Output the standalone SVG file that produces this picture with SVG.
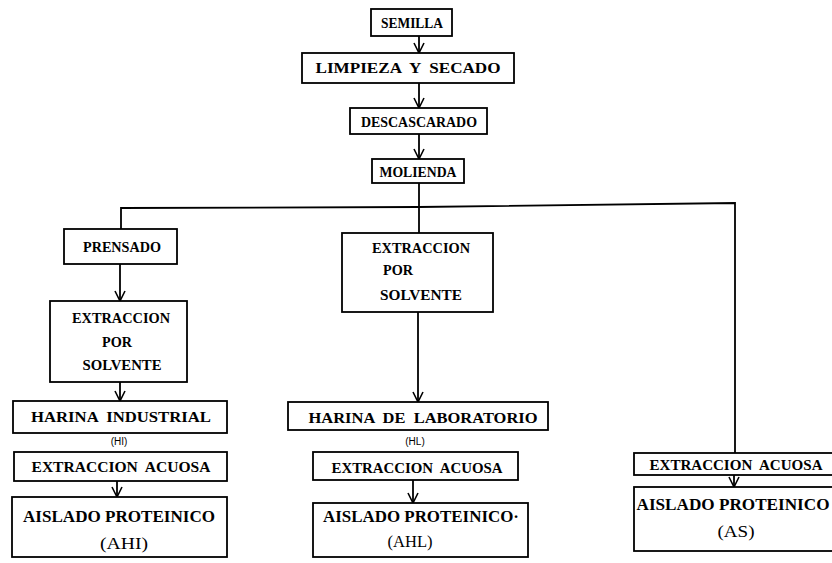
<svg xmlns="http://www.w3.org/2000/svg" width="832" height="563" viewBox="0 0 832 563">
<style>
text{white-space:pre}
.box{fill:#fff;stroke:#000;stroke-width:1.8}
.t{font-family:"Liberation Serif","DejaVu Serif",serif;font-weight:bold;font-size:15px;fill:#000;text-anchor:middle}
.tb{font-family:"Liberation Serif","DejaVu Serif",serif;font-weight:bold;font-size:17px;fill:#000;text-anchor:middle}
.tp{font-family:"Liberation Serif","DejaVu Serif",serif;font-size:17px;fill:#000;text-anchor:middle}
.s{font-family:"Liberation Sans","DejaVu Sans",sans-serif;font-size:10px;fill:#000;text-anchor:middle}
.c{fill:none;stroke:#000;stroke-width:1.8}
.a{marker-end:url(#arr)}
</style>
<defs>
<marker id="arr" viewBox="0 0 12 12" refX="11" refY="6" markerWidth="12" markerHeight="12" markerUnits="userSpaceOnUse" orient="auto">
<path d="M1,1 L11,6 L1,11" fill="none" stroke="#000" stroke-width="1.6"/>
</marker>
</defs>
<rect width="832" height="563" fill="#fff"/>
<g id="connectors">
<line class="c a" x1="419" y1="36" x2="419" y2="53"/>
<line class="c a" x1="419" y1="83" x2="419" y2="108"/>
<line class="c a" x1="419" y1="134" x2="419" y2="159"/>
<line class="c" x1="419" y1="183" x2="419" y2="233"/>
<polyline class="c" points="121,229 121,208 419,207 735,203 735,453"/>
<line class="c a" x1="120" y1="264" x2="120" y2="301"/>
<line class="c a" x1="120" y1="382" x2="120" y2="401"/>
<line class="c a" x1="117" y1="481" x2="117" y2="497"/>
<line class="c a" x1="418" y1="312" x2="418" y2="402"/>
<line class="c a" x1="413" y1="480" x2="413" y2="503"/>
<line class="c a" x1="734" y1="475" x2="734" y2="487"/>
</g>
<g id="semilla"><rect class="box" x="371" y="9" width="81" height="27"/><text class="t" x="412" y="28" textLength="62" lengthAdjust="spacingAndGlyphs">SEMILLA</text></g>
<g id="limpieza"><rect class="box" x="302" y="53" width="212" height="30"/><text class="t" x="408" y="73" textLength="185" lengthAdjust="spacingAndGlyphs">LIMPIEZA  Y  SECADO</text></g>
<g id="descascarado"><rect class="box" x="350" y="108" width="137" height="26"/><text class="t" x="419" y="127" textLength="116" lengthAdjust="spacingAndGlyphs">DESCASCARADO</text></g>
<g id="molienda"><rect class="box" x="372" y="159" width="92" height="24"/><text class="t" x="418" y="177" textLength="77" lengthAdjust="spacingAndGlyphs">MOLIENDA</text></g>
<g id="prensado"><rect class="box" x="64" y="229" width="113" height="35"/><text class="t" x="122" y="252" textLength="78" lengthAdjust="spacingAndGlyphs">PRENSADO</text></g>
<g id="extraccion-solvente-1"><rect class="box" x="50" y="301" width="137" height="81"/>
<text class="t" x="121" y="323" textLength="98" lengthAdjust="spacingAndGlyphs">EXTRACCION</text>
<text class="t" x="117" y="347" textLength="30" lengthAdjust="spacingAndGlyphs">POR</text>
<text class="t" x="122" y="370" textLength="79" lengthAdjust="spacingAndGlyphs">SOLVENTE</text></g>
<g id="harina-industrial"><rect class="box" x="13" y="401" width="214" height="32"/><text class="t" x="121" y="422" textLength="180" lengthAdjust="spacingAndGlyphs">HARINA  INDUSTRIAL</text><text class="s" x="119" y="445">(HI)</text></g>
<g id="extraccion-acuosa-1"><rect class="box" x="14" y="452" width="213" height="29"/><text class="t" x="121" y="472" textLength="179" lengthAdjust="spacingAndGlyphs">EXTRACCION  ACUOSA</text></g>
<g id="aislado-ahi"><rect class="box" x="12" y="497" width="215" height="60"/><text class="tb" x="119" y="522" textLength="192" lengthAdjust="spacingAndGlyphs">AISLADO PROTEINICO</text><text class="tp" x="124" y="549" textLength="48" lengthAdjust="spacingAndGlyphs">(AHI)</text></g>
<g id="extraccion-solvente-2"><rect class="box" x="342" y="233" width="151" height="79"/>
<text class="t" x="421" y="253" textLength="98" lengthAdjust="spacingAndGlyphs">EXTRACCION</text>
<text class="t" x="398" y="275" textLength="30" lengthAdjust="spacingAndGlyphs">POR</text>
<text class="t" x="421" y="300" textLength="82" lengthAdjust="spacingAndGlyphs">SOLVENTE</text></g>
<g id="harina-laboratorio"><rect class="box" x="288" y="402" width="260" height="28"/><text class="t" x="423" y="423" textLength="229" lengthAdjust="spacingAndGlyphs">HARINA  DE  LABORATORIO</text><text class="s" x="415" y="445">(HL)</text></g>
<g id="extraccion-acuosa-2"><rect class="box" x="313" y="452" width="205" height="28"/><text class="t" x="417" y="473" textLength="171" lengthAdjust="spacingAndGlyphs">EXTRACCION  ACUOSA</text></g>
<g id="aislado-ahl"><rect class="box" x="313" y="503" width="215" height="54"/><text class="tb" x="421" y="522" textLength="196" lengthAdjust="spacingAndGlyphs">AISLADO PROTEINICO·</text><text class="tp" x="410" y="547" textLength="45" lengthAdjust="spacingAndGlyphs">(AHL)</text></g>
<g id="extraccion-acuosa-3"><rect class="box" x="634" y="453" width="206" height="22"/><text class="t" x="736" y="470" textLength="173" lengthAdjust="spacingAndGlyphs">EXTRACCION  ACUOSA</text></g>
<g id="aislado-as"><rect class="box" x="634" y="487" width="206" height="64"/><text class="tb" x="733" y="510" textLength="193" lengthAdjust="spacingAndGlyphs">AISLADO PROTEINICO</text><text class="tp" x="736" y="537" textLength="37" lengthAdjust="spacingAndGlyphs">(AS)</text></g>
</svg>
